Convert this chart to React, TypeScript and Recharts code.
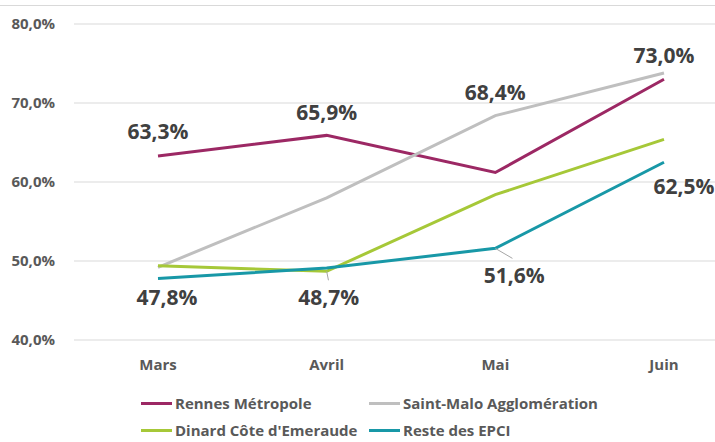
import { LineChart, Line, XAxis, YAxis, CartesianGrid, LabelList } from "recharts";

const months = ["Mars", "Avril", "Mai", "Juin"];
const rennes = [63.3, 65.9, 61.2, 73.0];
const saintMalo = [49.2, 58.0, 68.4, 73.8];
const dinard = [49.4, 48.7, 58.4, 65.4];
const reste = [47.8, 49.1, 51.6, 62.5];
const yTicks = [40, 50, 60, 70, 80];

const data = months.map((m, i) => ({
  month: m,
  rennes: rennes[i],
  saintMalo: saintMalo[i],
  dinard: dinard[i],
  reste: reste[i],
}));

const SERIES = [
  { key: "rennes", name: "Rennes Métropole", color: "#9c2864" },
  { key: "saintMalo", name: "Saint-Malo Agglomération", color: "#bfbfbf" },
  { key: "dinard", name: "Dinard Côte d'Emeraude", color: "#a6c838" },
  { key: "reste", name: "Reste des EPCI", color: "#1898a7" },
];

// which points get a label, and where it sits relative to the point
const LABELS: Record<string, Record<number, { dx: number; dy: number; leader?: boolean }>> = {
  rennes: { 0: { dx: 0, dy: -25 }, 1: { dx: 0, dy: -23 }, 3: { dx: 0, dy: -24 } },
  saintMalo: { 2: { dx: 0, dy: -24 } },
  dinard: { 1: { dx: 2, dy: 26, leader: true } },
  reste: { 0: { dx: 9, dy: 19 }, 2: { dx: 19, dy: 27, leader: true }, 3: { dx: 20, dy: 24 } },
};

const FONT = "'Open Sans', sans-serif";
const fmt = (v: number) => v.toFixed(1).replace(".", ",") + "%";

const makeLabel = (key: string) => (props: any) => {
  const cfg = LABELS[key][props.index];
  if (!cfg) return null;
  const x = Number(props.x);
  const y = Number(props.y);
  return (
    <g>
      {cfg.leader && (
        <line x1={x} y1={y} x2={x + cfg.dx * 0.9} y2={y + cfg.dy - 17} stroke="#a6a6a6" strokeWidth={1} />
      )}
      <text x={x + cfg.dx} y={y + cfg.dy} textAnchor="middle" dominantBaseline="central" fill="#404040" fontFamily={FONT} fontWeight={700} fontSize={21}>
        {fmt(Number(props.value))}
      </text>
    </g>
  );
};

const LegendBox = () => (
  <div style={{ position: "absolute", left: 0, top: 392, width: 715, height: 50, fontFamily: FONT, fontWeight: 700, fontSize: 15, color: "#595959" }}>
    {SERIES.map((s, i) => (
      <div key={s.key} style={{ position: "absolute", left: i % 2 === 0 ? 141 : 369, top: i < 2 ? 0 : 27, display: "flex", alignItems: "center", height: 22 }}>
        <span style={{ display: "inline-block", width: 31, height: 3, background: s.color, marginRight: 3 }} />
        <span>{s.name}</span>
      </div>
    ))}
  </div>
);

export default function App() {
  return (
    <div style={{ position: "absolute", left: 0, top: 0, width: 715, height: 442, overflow: "hidden", background: "#fff" }}>
      <div style={{ position: "absolute", left: 0, top: 5, width: 715, height: 1, background: "#d9d9d9" }} />
      <LineChart width={762} height={442} data={data} margin={{ top: 24, right: 14, left: 0, bottom: 72 }}>
        <CartesianGrid vertical={false} stroke="#d9d9d9" strokeWidth={1} />
        <XAxis dataKey="month" padding={{ left: 84, right: 84 }} axisLine={false} tickLine={false} tickSize={0} tickMargin={19}
          tick={{ fill: "#595959", fontSize: 15, fontWeight: 700, fontFamily: FONT }} height={30} />
        <YAxis domain={[40, 80]} ticks={yTicks} width={74} axisLine={false} tickLine={false} tickSize={0} tickMargin={19}
          tickFormatter={(v: number) => fmt(v)} tick={{ fill: "#595959", fontSize: 15, fontWeight: 700, fontFamily: FONT }} />
        {SERIES.map((s) => (
          <Line key={s.key} dataKey={s.key} name={s.name} stroke={s.color} strokeWidth={3} dot={false} activeDot={false} isAnimationActive={false} type="linear">
            <LabelList dataKey={s.key} content={makeLabel(s.key)} />
          </Line>
        ))}
      </LineChart>
      <LegendBox />
    </div>
  );
}
